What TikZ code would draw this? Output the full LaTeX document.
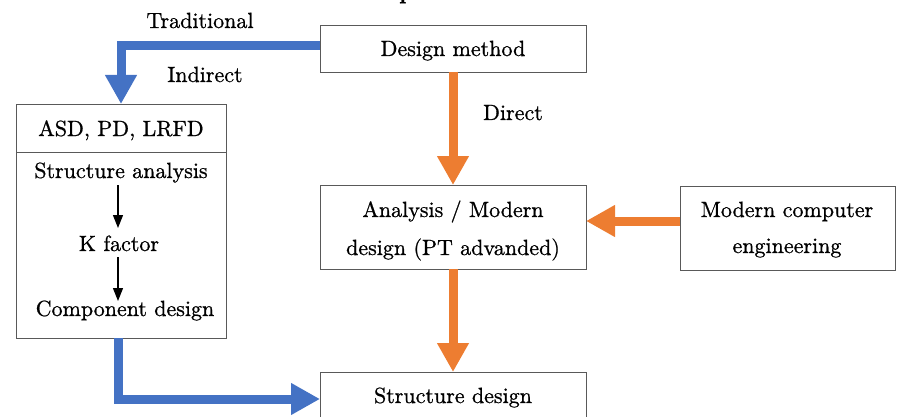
\documentclass[tikz,border=0pt]{standalone}
\usepackage{fontspec}
\newfontfamily\lmten{lmroman10-regular}[Extension=.otf, BoldFont=lmroman10-bold, FakeBold=0.8]
\usetikzlibrary{arrows.meta}
\definecolor{bluearr}{HTML}{4472C4}
\definecolor{orangearr}{HTML}{ED7D31}
\begin{document}
\begin{tikzpicture}[x=1pt,y=-1pt,
  every node/.style={font=\lmten\fontsize{22}{27}\selectfont, inner sep=0pt},
  boxshape/.style={draw=black!65, line width=0.9pt, fill=white},
  txt/.style={anchor=base},
  thick arrow/.style={line width=9pt, -{Triangle[length=29pt,width=30pt]}},
  thin arrow/.style={line width=1.2pt, -{Triangle[length=13pt,width=10pt]}},
]
\useasboundingbox (0,0) rectangle (904,417);
% boxes
\path[boxshape] (320,25) rectangle (586,72);
\coordinate (dmL) at (320,46);
\coordinate (dmB) at (453,72);
\path[boxshape] (16,104) rectangle (226,338);
\draw[black!65, line width=0.9pt] (16,152) -- (226,152);
\coordinate (lbT) at (121,104);
\coordinate (lbB) at (118,338);
\path[boxshape] (320,185) rectangle (586,269);
\coordinate (anT) at (453,185);
\coordinate (anB) at (453,269);
\coordinate (anR) at (586,221);
\path[boxshape] (680,186) rectangle (895,270);
\coordinate (mcL) at (680,221);
\path[boxshape] (320,372) rectangle (586,430);
\coordinate (sdT) at (453,372);
\coordinate (sdL) at (320,399);
% texts
\node[txt] (dm) at (453,56) {Design method};
\node[txt] (trad) at (200,28) {Traditional};
\node[txt] (ind) at (205,82) {Indirect};
\node[txt] (dir) at (513,120) {Direct};
\node[txt] (asd) at (121,136) {ASD, PD, LRFD};
\node[txt] (sa) at (121,178) {Structure analysis};
\node[txt] (kf) at (119,251) {K factor};
\node[txt] (cd) at (125,316) {Component design};
\node[txt] (an1) at (453,217) {Analysis / Modern};
\node[txt] (an2) at (453,255) {design (PT advanded)};
\node[txt] (mc1) at (787,217) {Modern computer};
\node[txt] (mc2) at (787,253) {engineering};
\node[txt] (sd) at (453,403) {Structure design};
\node[anchor=base west, font=\lmten\fontsize{22}{27}\selectfont\bfseries] (ttl) at (399,-1) {p};
% thick connectors
\draw[thick arrow, bluearr] (dmL) -| (lbT);
\draw[thick arrow, bluearr] (lbB) |- (sdL);
\draw[thick arrow, orangearr] (dmB) -- (anT);
\draw[thick arrow, orangearr] (mcL) -- (anR);
\draw[thick arrow, orangearr] (anB) -- (sdT);
% thin arrows
\coordinate (a1s) at (118,185);
\coordinate (a1e) at (118,228);
\coordinate (a2s) at (118,257);
\coordinate (a2e) at (118,301);
\draw[thin arrow] (a1s) -- (a1e);
\draw[thin arrow] (a2s) -- (a2e);
\end{tikzpicture}
\end{document}
